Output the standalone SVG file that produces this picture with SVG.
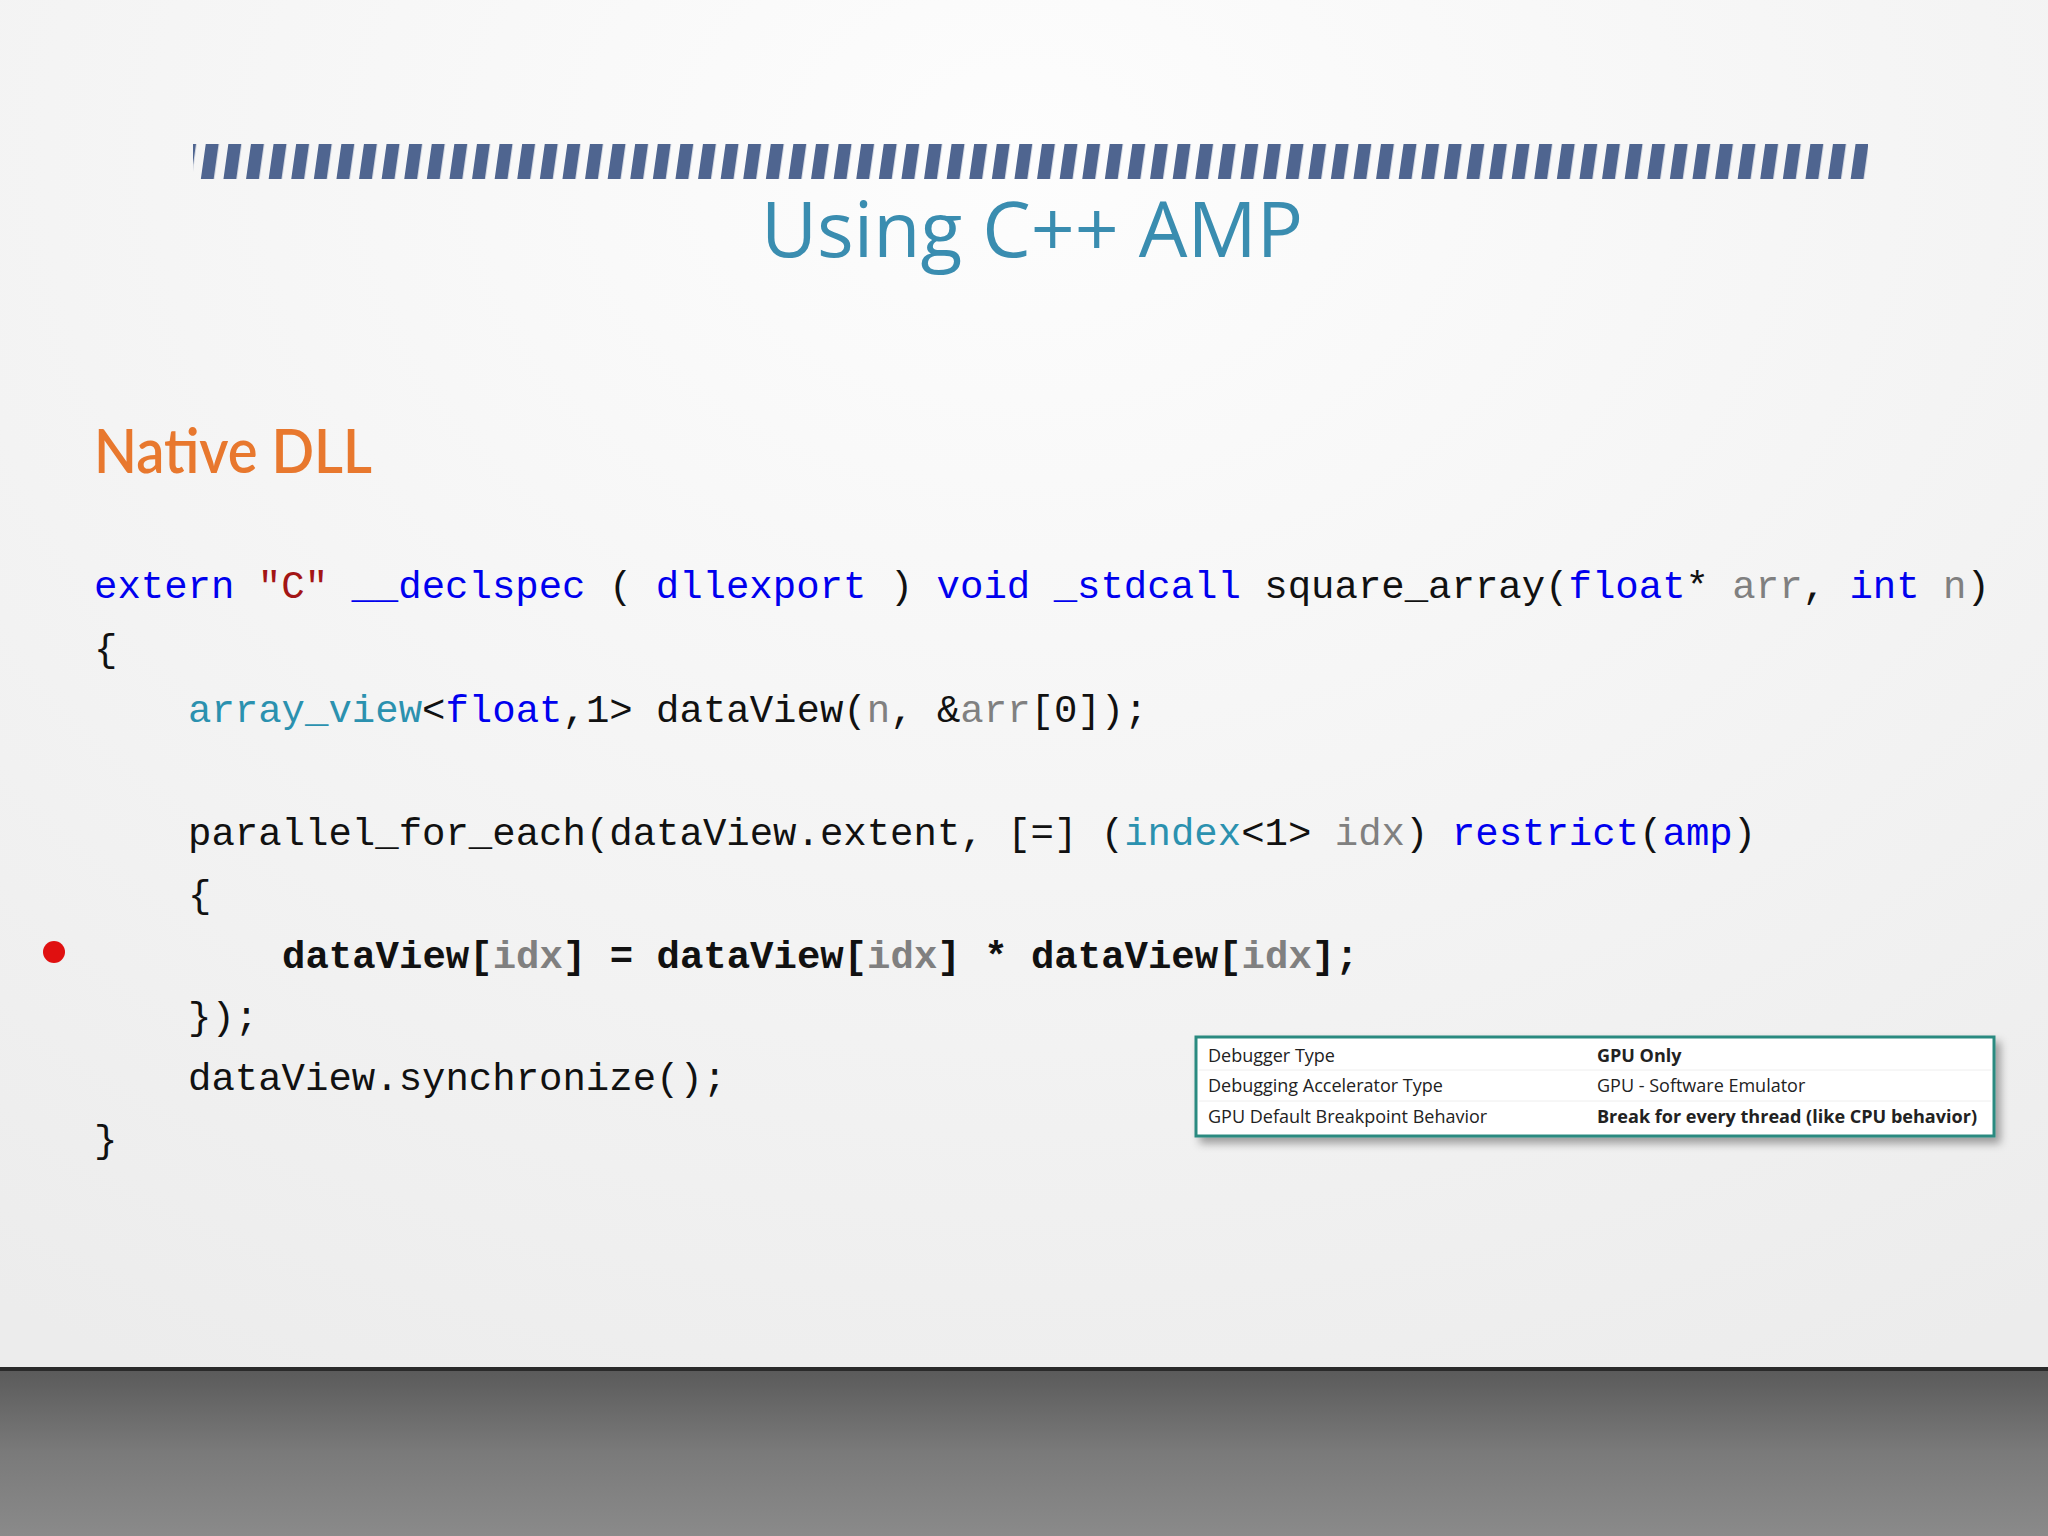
<svg xmlns="http://www.w3.org/2000/svg" width="2048" height="1536" viewBox="0 0 2048 1536">
<defs>
<radialGradient id="bg" cx="0.5" cy="0.1" r="0.9"><stop offset="0" stop-color="#fdfdfd"/><stop offset="1" stop-color="#ececec"/></radialGradient>
<linearGradient id="floor" x1="0" y1="0" x2="0" y2="1"><stop offset="0" stop-color="#5a5a5a"/><stop offset="0.5" stop-color="#7a7a7a"/><stop offset="1" stop-color="#8a8a8a"/></linearGradient>
<pattern id="stripes" width="22.6" height="40" patternUnits="userSpaceOnUse" patternTransform="skewX(-8)"><rect width="13" height="40" fill="#4f6590"/></pattern>
<filter id="sh" x="-5%" y="-20%" width="110%" height="150%"><feDropShadow dx="5" dy="6" stdDeviation="4" flood-color="#000" flood-opacity="0.35"/></filter>
</defs>
<style>
.code{font-family:"Liberation Mono","DejaVu Sans Mono",monospace;font-size:39px;fill:#111}
.k{fill:#0000ee}.s{fill:#a31515}.t{fill:#2b91af}.p{fill:#808080}
.tb{font-family:"Open Sans","Noto Sans",sans-serif;font-size:18px;fill:#222}
</style>
<rect width="2048" height="1536" fill="url(#bg)"/>
<rect y="1369" width="2048" height="167" fill="url(#floor)"/>
<rect y="1367" width="2048" height="4" fill="#2a2a2a"/>
<rect x="193" y="144" width="1675" height="35" fill="url(#stripes)"/>
<text x="1032" y="257" text-anchor="middle" font-family="'Open Sans','Noto Sans',sans-serif" font-size="77" fill="#3a8db0">Using C++ AMP</text>
<text x="94" y="473" font-family="Lato,'Open Sans',sans-serif" font-size="62" font-weight="600" fill="#e8782e" textLength="278" lengthAdjust="spacingAndGlyphs">Native DLL</text>
<g id="code" class="code">
<text x="94" y="598"><tspan class="k">extern</tspan> <tspan class="s">"C"</tspan> <tspan class="k">__declspec</tspan> ( <tspan class="k">dllexport</tspan> ) <tspan class="k">void</tspan> <tspan class="k">_stdcall</tspan> square_array(<tspan class="k">float</tspan>* <tspan class="p">arr</tspan>, <tspan class="k">int</tspan> <tspan class="p">n</tspan>)</text>
<text x="94" y="661">{</text>
<text x="188" y="722"><tspan class="t">array_view</tspan>&lt;<tspan class="k">float</tspan>,1&gt; dataView(<tspan class="p">n</tspan>, &amp;<tspan class="p">arr</tspan>[0]);</text>
<text x="188" y="845">parallel_for_each(dataView.extent, [=] (<tspan class="t">index</tspan>&lt;1&gt; <tspan class="p">idx</tspan>) <tspan class="k">restrict</tspan>(<tspan class="k">amp</tspan>)</text>
<text x="188" y="907">{</text>
<text x="282" y="968" font-weight="bold">dataView[<tspan class="p">idx</tspan>] = dataView[<tspan class="p">idx</tspan>] * dataView[<tspan class="p">idx</tspan>];</text>
<text x="188" y="1029">});</text>
<text x="188" y="1090">dataView.synchronize();</text>
<text x="94" y="1152">}</text>
</g>
<circle id="breakpoint" cx="54" cy="952" r="11" fill="#e01010"/>
<g id="table">
<rect x="1196" y="1037" width="798" height="99" fill="#fff" stroke="#2a8a80" stroke-width="3" filter="url(#sh)"/>
<line x1="1199" y1="1070" x2="1991" y2="1070" stroke="#eee"/>
<line x1="1199" y1="1101" x2="1991" y2="1101" stroke="#eee"/>
<text class="tb" x="1208" y="1062">Debugger Type</text>
<text class="tb" x="1597" y="1062" font-weight="bold">GPU Only</text>
<text class="tb" x="1208" y="1092">Debugging Accelerator Type</text>
<text class="tb" x="1597" y="1092">GPU - Software Emulator</text>
<text class="tb" x="1208" y="1123">GPU Default Breakpoint Behavior</text>
<text class="tb" x="1597" y="1123" font-weight="bold" textLength="380" lengthAdjust="spacingAndGlyphs">Break for every thread (like CPU behavior)</text>
</g>
</svg>
